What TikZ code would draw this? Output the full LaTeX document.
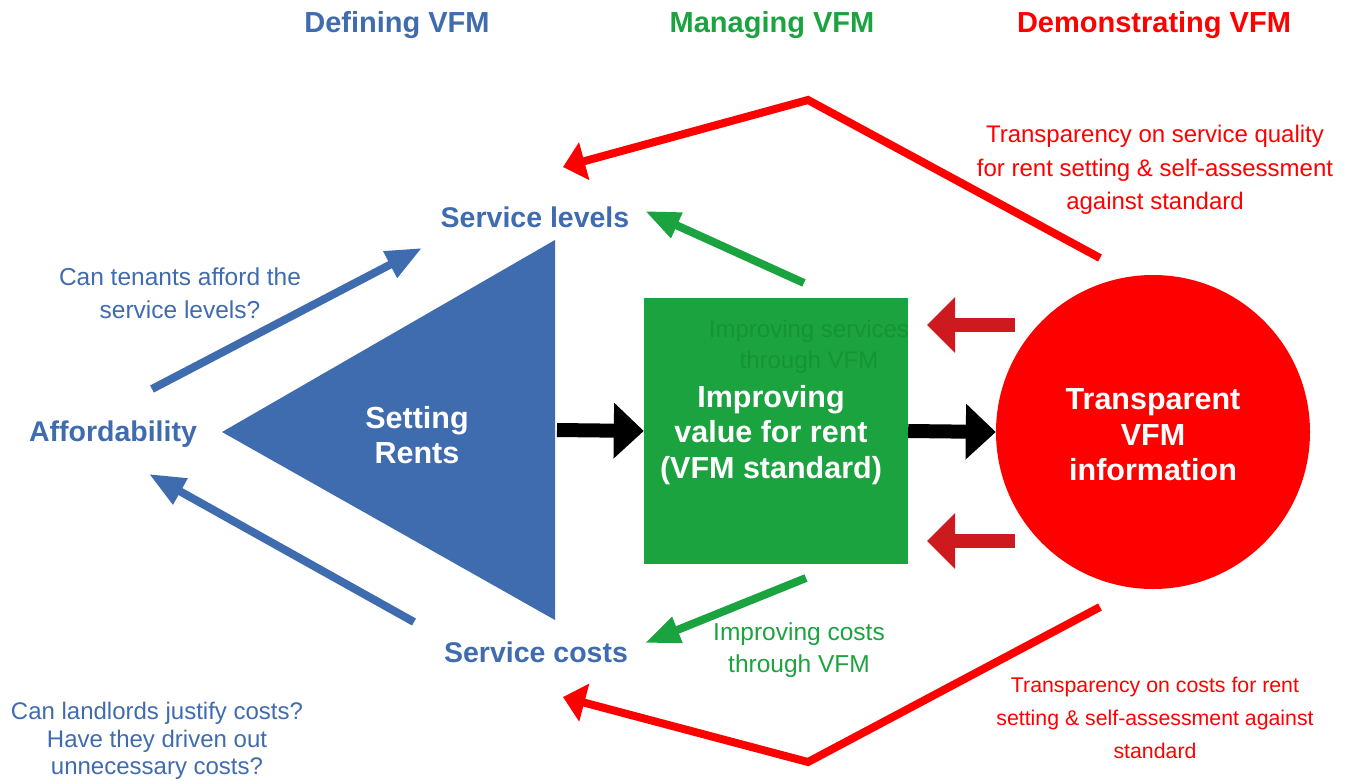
\documentclass[tikz,border=0pt]{standalone}
\usepackage{fontspec}
\setmainfont{Liberation Sans}
\usetikzlibrary{arrows.meta}
\definecolor{vblue}{HTML}{3F6BAF}
\definecolor{vgreen}{HTML}{1BA33F}
\definecolor{vgreentext}{HTML}{169433}
\definecolor{vred}{HTML}{FF0000}
\definecolor{vdarkred}{HTML}{CC1A1F}
\tikzset{
  heading/.style={font=\fontsize{29}{32}\selectfont\bfseries},
  label/.style={font=\fontsize{28.5}{32}\selectfont\bfseries, text=vblue},
  inner/.style={font=\fontsize{30.5}{35.5}\selectfont\bfseries, text=white, align=center},
  note/.style={font=\fontsize{24.5}{33.5}\selectfont, align=center},
  thinarrow/.style={line width=8pt, line cap=butt, line join=miter},
  bigarrow/.style={line width=14pt, -{Triangle[length=30pt,width=54pt]}},
}
\begin{document}
\begin{tikzpicture}[x=1pt,y=-1pt]
\useasboundingbox (0,0) rectangle (1353,780);

% column headings
\node[heading, text=vblue] (hdef) at (397,25) {Defining VFM};
\node[heading, text=vgreen] (hman) at (772,25) {Managing VFM};
\node[heading, text=vred] (hdem) at (1154,25) {Demonstrating VFM};

% central shapes
\fill[vblue] (222,432) -- (555,240) -- (555,620) -- cycle;
\node[inner] (rents) at (417,435) {Setting\\Rents};
\node[fill=vgreen, minimum width=264pt, minimum height=266pt, inner sep=0pt] (box) at (776,431) {};
\node[note, text=vgreentext, font=\fontsize{24}{31}\selectfont] (impserv) at (809,347) {Improving services\\through VFM};
\node[inner] (boxtext) at (771,435) {Improving\\value for rent\\(VFM standard)};
\node[circle, fill=vred, minimum size=314pt, inner sep=0pt] (circ) at (1153,432) {};
\node[inner] (circtext) at (1153,435) {Transparent\\VFM\\information};

% labels
\node[label] (slev) at (535,217) {Service levels};
\node[label] (scost) at (536,652) {Service costs};
\node[label] (afford) at (113,434) {Affordability};

% notes
\node[note, text=vblue] (qtenant) at (180,293) {Can tenants afford the\\service levels?};
\node[note, text=vblue, font=\fontsize{24}{27.5}\selectfont] (qland) at (157,741) {Can landlords justify costs?\\Have they driven out\\unnecessary costs?};
\node[note, text=vgreen, font=\fontsize{24.5}{32}\selectfont] (impcost) at (799,650) {Improving costs\\through VFM};
\node[note, text=vred, font=\fontsize{24}{33.5}\selectfont] (transq) at (1155,170) {Transparency on service quality\\for rent setting \& self-assessment\\against standard};
\node[note, text=vred, font=\fontsize{21.3}{33}\selectfont] (transc) at (1155,718) {Transparency on costs for rent\\setting \& self-assessment against\\standard};

% flow arrows
\draw[bigarrow, black] (557,430) -- (box.west);
\draw[bigarrow, black] (box.east) -- (circ.west);
\coordinate (dr1s) at (1015,325);
\coordinate (dr1e) at (927,325);
\coordinate (dr2s) at (1015,541);
\coordinate (dr2e) at (927,541);
\draw[bigarrow, vdarkred, -{Triangle[length=28pt,width=54pt]}] (dr1s) -- (dr1e);
\draw[bigarrow, vdarkred, -{Triangle[length=28pt,width=54pt]}] (dr2s) -- (dr2e);

% blue arrows
\coordinate (bu1) at (152,389);
\coordinate (bu2) at (422,248);
\coordinate (bl1) at (414,622);
\coordinate (bl2) at (149,474);
\draw[thinarrow, vblue, -{Triangle[length=36pt,width=28pt]}] (bu1) -- (bu2);
\draw[thinarrow, vblue, -{Triangle[length=36pt,width=28pt]}] (bl1) -- (bl2);

% green arrows
\coordinate (gu1) at (804,283);
\coordinate (gu2) at (645,211);
\coordinate (gl1) at (806,578);
\coordinate (gl2) at (645,643);
\draw[thinarrow, vgreen, -{Triangle[length=35pt,width=26pt]}] (gu1) -- (gu2);
\draw[thinarrow, vgreen, -{Triangle[length=35pt,width=26pt]}] (gl1) -- (gl2);

% red feedback arrows
\coordinate (ru1) at (1100,258);
\coordinate (ru2) at (808,100);
\coordinate (ru3) at (563,167);
\coordinate (rl1) at (1100,607);
\coordinate (rl2) at (808,762);
\coordinate (rl3) at (563,697);
\draw[thinarrow, vred, -{Triangle[length=22pt,width=38pt]}] (ru1) -- (ru2) -- (ru3);
\draw[thinarrow, vred, -{Triangle[length=22pt,width=38pt]}] (rl1) -- (rl2) -- (rl3);
\end{tikzpicture}
\end{document}
